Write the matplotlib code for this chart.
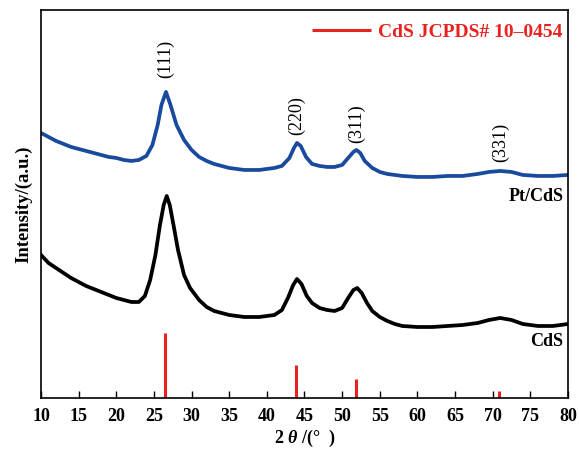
import matplotlib
matplotlib.use('Agg')
import matplotlib.pyplot as plt

plt.rcParams['font.family'] = ['Liberation Serif', 'DejaVu Serif']
plt.rcParams['mathtext.fontset'] = 'custom'
plt.rcParams['mathtext.rm'] = 'Liberation Serif:bold'
plt.rcParams['mathtext.it'] = 'Liberation Serif:bold:italic'

# 2theta positions and intensities (arbitrary units)
pt_x = [10, 11, 12, 13, 14, 15, 16, 17, 18, 19, 20, 21, 22, 23, 24, 24.8, 25.5, 26.0, 26.6,
        27.2, 28, 29, 30, 31, 32, 33, 34, 35, 36, 37, 38, 39, 40, 41, 42, 43, 43.6, 44.0,
        44.5, 45.2, 46, 47, 48, 49, 50, 50.8, 51.5, 51.9, 52.4, 53, 54, 55, 56, 57, 58, 60,
        62, 64, 66, 68, 69.5, 71, 72.5, 74, 76, 78, 80]
pt_y = [265, 261, 257, 254, 251, 249, 247, 245, 243, 241, 240, 238, 237, 238, 242, 253, 273,
        293, 306, 293, 273, 258, 248, 241, 237, 234, 232, 230, 229, 228, 228, 228, 229, 230,
        232, 240, 250, 255, 252, 241, 234, 232, 231, 231, 233, 240, 246, 248, 245, 237, 230,
        226, 224, 223, 222, 221, 221, 222, 222, 224, 226, 227, 226, 223, 222, 222, 223]

cds_x = [10, 11, 12, 13, 14, 15, 16, 17, 18, 19, 20, 21, 22, 23, 23.8, 24.5, 25.2, 25.8, 26.3,
         26.7, 27.1, 27.6, 28.2, 29, 29.8, 31, 32, 33, 34, 35, 36, 37, 38, 39, 40, 41, 42,
         42.8, 43.5, 44.0, 44.6, 45.3, 46, 47, 48, 49, 50, 50.8, 51.5, 52.0, 52.6, 53.3, 54,
         55, 56, 57, 58, 60, 62, 64, 66, 68, 69.5, 71, 72.5, 74, 76, 78, 80]
cds_y = [143, 135, 130, 125, 120, 116, 112, 109, 106, 103, 100, 98, 96, 96, 102, 118, 143, 173,
         193, 202, 193, 173, 148, 123, 110, 98, 91, 87, 85, 83, 82, 81, 81, 81, 82, 83, 88,
         100, 113, 119, 114, 102, 95, 90, 88, 87, 90, 100, 108, 110, 105, 95, 87, 81, 77, 74,
         72, 71, 71, 72, 73, 75, 78, 80, 78, 74, 72, 72, 74]

# reference card lines
ref_x = [26.5, 43.9, 51.8, 70.9]
ref_h = [65, 33, 19, 7]

peak_labels = ['(111)', '(220)', '(311)', '(331)']
peak_x = [26.6, 44.0, 51.9, 71.0]
peak_y = [320, 263, 255, 236]

fig = plt.figure(figsize=(5.79, 4.51), dpi=100)
ax = fig.add_axes([0.0708, 0.1175, 0.9102, 0.8605])

ax.plot(pt_x, pt_y, color='#1a4a9e', lw=2.7)
ax.plot(cds_x, cds_y, color='black', lw=2.7)
ax.vlines(ref_x, 0, ref_h, color='#e8231f', lw=2.2, label='CdS JCPDS# 10\u20130454')

for lab, px, py in zip(peak_labels, peak_x, peak_y):
    ax.text(px, py, lab, rotation=90, ha='center', va='bottom', fontsize=13)

ax.text(79.4, 201, 'Pt/CdS', ha='right', va='center', fontsize=13, fontweight='bold')
ax.text(79.4, 56, 'CdS', ha='right', va='center', fontsize=13, fontweight='bold')

ax.set_xlim(10, 80)
ax.set_ylim(0, 388)
ax.set_xticks(range(10, 81, 5))
ax.set_yticks([])
ax.tick_params(axis='x', direction='in', length=5, width=1, labelsize=13, pad=7)
for t in ax.get_xticklabels():
    t.set_fontweight('bold')
for s in ax.spines.values():
    s.set_linewidth(1.2)

ax.set_xlabel('2 $\\theta$ /(\u00b0  )', fontsize=13, fontweight='bold', labelpad=2)
ax.set_ylabel('Intensity/(a.u.)', fontsize=13.4, fontweight='bold', labelpad=6)

leg = ax.legend(loc='upper right', bbox_to_anchor=(1.005, 0.985), borderaxespad=0,
                frameon=False, fontsize=14, handlelength=3.0, handletextpad=0.4)
for t in leg.get_texts():
    t.set_color('#e8231f')
    t.set_fontweight('bold')
for h in leg.get_lines():
    h.set_linewidth(2.2)

fig.savefig('out.png', dpi=100)
